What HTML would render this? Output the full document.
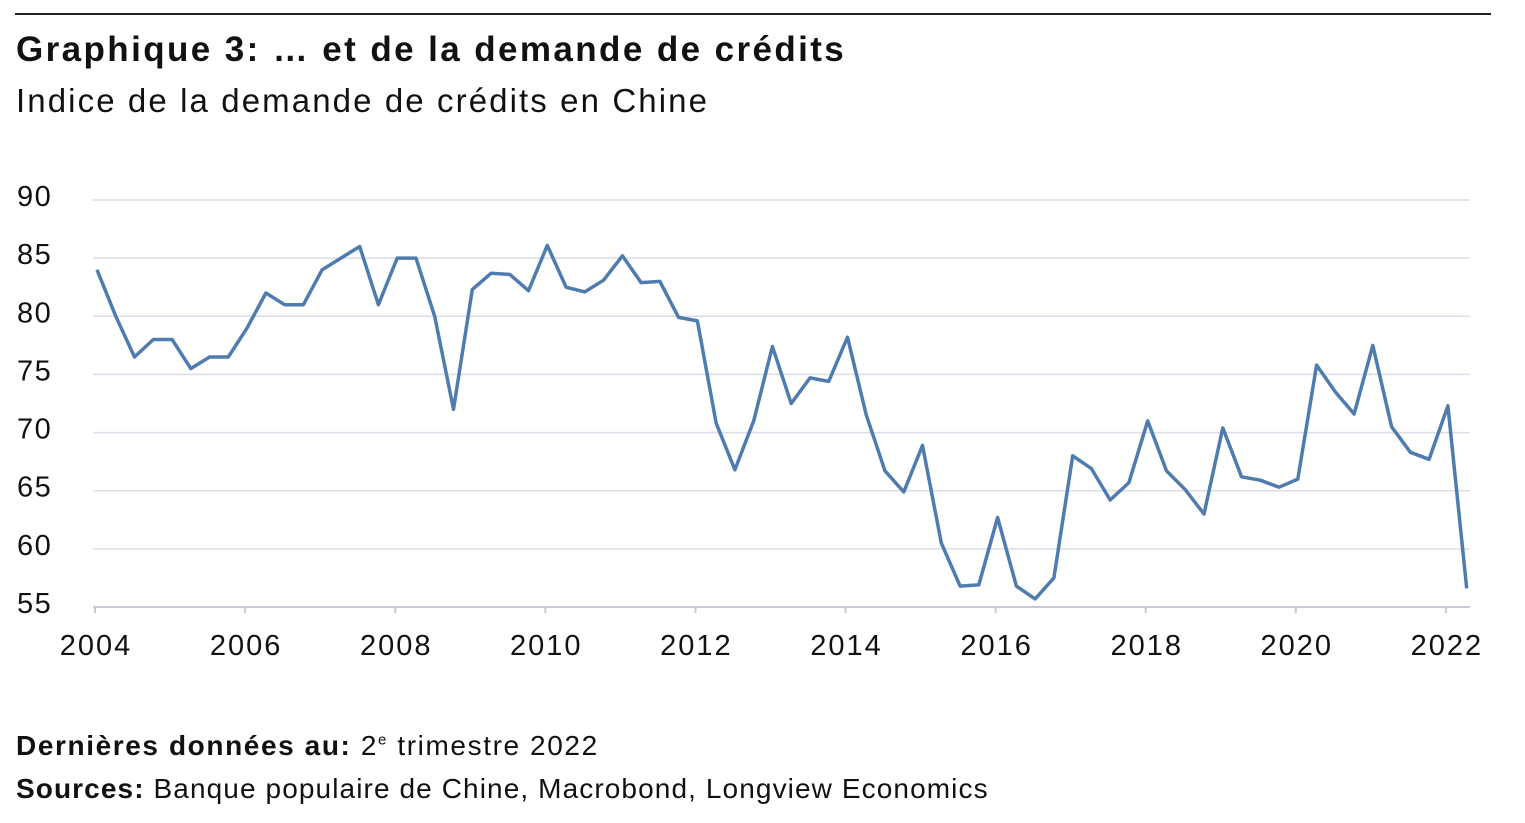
<!DOCTYPE html>
<html><head><meta charset="utf-8"><style>
body{margin:0;background:#fff;font-family:"Liberation Sans",sans-serif;color:#111}
#wrap{position:relative;width:1525px;height:823px;overflow:hidden}
.t{position:absolute;left:16px;white-space:nowrap}
</style></head><body>
<div id="wrap">
<div style="position:absolute;left:15px;top:13px;width:1476px;height:2px;background:#222"></div>
<div class="t" style="top:30px;font-size:35px;font-weight:bold;letter-spacing:2.4px">Graphique 3: … et de la demande de crédits</div>
<div class="t" style="top:82px;font-size:33px;letter-spacing:2.1px">Indice de la demande de crédits en Chine</div>
<svg id="chart" width="1525" height="823" style="position:absolute;left:0;top:0"></svg>
<div class="t" style="top:730px;font-size:28px;letter-spacing:1.6px"><b>Dernières données au:</b> 2<sup style="font-size:15px">e</sup> trimestre 2022</div>
<div class="t" style="top:773px;font-size:28px;letter-spacing:1.1px"><b>Sources:</b> Banque populaire de Chine, Macrobond, Longview Economics</div>
</div>
<script>
const yTicks=[55,60,65,70,75,80,85,90];
const xTickYears=[2004,2006,2008,2010,2012,2014,2016,2018,2020,2022];
const startYear=2004;
const values=[84,80,76.5,78,78,75.5,76.5,76.5,79,82,81,81,84,85,86,81,85,85,80,72,82.3,83.7,83.6,82.2,86.1,82.5,82.1,83.1,85.2,82.9,83,79.9,79.6,70.8,66.8,71,77.4,72.5,74.7,74.4,78.2,71.5,66.7,64.9,68.9,60.5,56.8,56.9,62.7,56.8,55.7,57.5,68,66.9,64.2,65.7,71,66.7,65.1,63,70.4,66.2,65.9,65.3,66,75.8,73.5,71.6,77.5,70.5,68.3,67.7,72.3,56.6];
const svg=document.getElementById('chart');const NS='http://www.w3.org/2000/svg';
const y=v=>607-(v-55)*(407/35);
const xt=t=>95+(t-2004)*75.05;
function mk(tag,a){const e=document.createElementNS(NS,tag);for(const k in a)e.setAttribute(k,a[k]);svg.appendChild(e);return e;}
yTicks.forEach(v=>{
 const g=mk('line',{x1:93,x2:1470,y1:y(v),y2:y(v),stroke:'#dcdcea','stroke-width':1.5});
 
 
 const t=mk('text',{x:17,y:y(v)+6,'font-size':29,fill:'#111','font-family':'Liberation Sans','letter-spacing':1.5});t.textContent=v;
 
 
});
const ax=mk('line',{x1:93,x2:1470,y1:607,y2:607,stroke:'#c8c8d8','stroke-width':2});


xTickYears.forEach(yr=>{
 const tk=mk('line',{x1:xt(yr),x2:xt(yr),y1:607,y2:613,stroke:'#c8c8d8','stroke-width':2});
 
 
 const t=mk('text',{x:xt(yr)+1,y:655,'font-size':29,fill:'#111','text-anchor':'middle','font-family':'Liberation Sans','letter-spacing':2});t.textContent=yr;
 
 
});
const pts=values.map((v,i)=>(xt(startYear+i/4)+2).toFixed(1)+','+y(v).toFixed(1)).join(' ');
const pl=mk('polyline',{points:pts,fill:'none',stroke:'#4f7cae','stroke-width':3.5,'stroke-linejoin':'round'});


</script>
</body></html>
